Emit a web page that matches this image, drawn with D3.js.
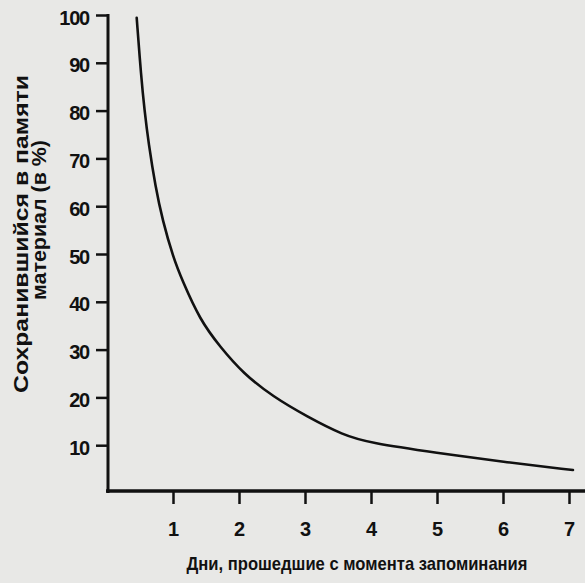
<!DOCTYPE html>
<html><head><meta charset="utf-8">
<script src="https://cdn.jsdelivr.net/npm/d3@7"></script>
<style>
html,body{margin:0;padding:0;background:#e8e8e6;}
svg{display:block;}
text{font-family:"Liberation Sans","Arial",sans-serif;font-weight:bold;fill:#111;}
</style></head>
<body>
<script>
const days = [0.45, 0.518, 0.568, 0.629, 0.735, 0.841, 1.005, 1.136, 1.409, 1.712, 2.065, 2.52, 3.03, 3.58, 3.98, 5.0, 6.0, 7.06];
const retained = [99.4, 87.0, 80.1, 73.2, 64.0, 57.1, 49.2, 44.6, 36.2, 30.6, 25.0, 20.1, 16.0, 12.1, 10.5, 8.4, 6.5, 4.8];
const xTicks = [1, 2, 3, 4, 5, 6, 7];
const yTicks = [10, 20, 30, 40, 50, 60, 70, 80, 90, 100];
const xTitle = "Дни, прошедшие с момента запоминания";
const yTitle1 = "Сохранившийся в памяти";
const yTitle2 = "материал (в %)";

const W = 585, H = 583;
const svg = d3.select("body").append("svg").attr("width", W).attr("height", H);
svg.append("rect").attr("width", W).attr("height", H).attr("fill", "#e8e8e6");

const x = d3.scaleLinear().domain([0, 7]).range([107, 569]);
const y = d3.scaleLinear().domain([0, 100]).range([493, 15]);
const fontFam = "'Liberation Sans',Arial,sans-serif";

// y axis
const yAxis = d3.axisLeft(y).tickValues(yTicks).tickFormat(d3.format("d")).tickSize(12).tickPadding(7).tickSizeOuter(0);
const gy = svg.append("g").attr("transform", "translate(108,0)").call(yAxis);
gy.select(".domain").remove();
gy.selectAll(".tick line").attr("stroke", "#111").attr("stroke-width", 2.5);
gy.selectAll(".tick text").attr("font-size", 20).attr("dy", "0.45em").attr("letter-spacing", -1.2)
  .style("font-family", fontFam).style("font-weight", "bold").attr("fill", "#111");
svg.append("line").attr("x1", 108).attr("x2", 108).attr("y1", y(100) - 1).attr("y2", 493)
  .attr("stroke", "#111").attr("stroke-width", 3);

// x axis
const xAxis = d3.axisBottom(x).tickValues(xTicks).tickFormat(d3.format("d")).tickSize(13).tickPadding(18).tickSizeOuter(0);
const gx = svg.append("g").attr("transform", "translate(0,491)").call(xAxis);
gx.select(".domain").remove();
gx.selectAll(".tick line").attr("stroke", "#111").attr("stroke-width", 2.5);
gx.selectAll(".tick text").attr("font-size", 20)
  .style("font-family", fontFam).style("font-weight", "bold").attr("fill", "#111");
svg.append("line").attr("x1", 106).attr("x2", W).attr("y1", 491).attr("y2", 491)
  .attr("stroke", "#111").attr("stroke-width", 3.5);

// curve
const data = days.map((d, i) => [d, retained[i]]);
const line = d3.line().x(d => x(d[0])).y(d => y(d[1])).curve(d3.curveBasis);
svg.append("path").datum(data).attr("d", line).attr("fill", "none")
  .attr("stroke", "#111").attr("stroke-width", 2.6).attr("stroke-linecap", "round");

// titles
svg.append("text").attr("x", 357).attr("y", 570).attr("text-anchor", "middle")
  .attr("font-size", 19).attr("textLength", 341).attr("lengthAdjust", "spacingAndGlyphs").text(xTitle);
svg.append("text").attr("transform", "translate(28,234) rotate(-90)").attr("text-anchor", "middle")
  .attr("font-size", 20).attr("textLength", 318).attr("lengthAdjust", "spacingAndGlyphs").text(yTitle1);
svg.append("text").attr("transform", "translate(46,220) rotate(-90)").attr("text-anchor", "middle")
  .attr("font-size", 20).attr("textLength", 160).attr("lengthAdjust", "spacingAndGlyphs").text(yTitle2);
</script>
</body></html>
